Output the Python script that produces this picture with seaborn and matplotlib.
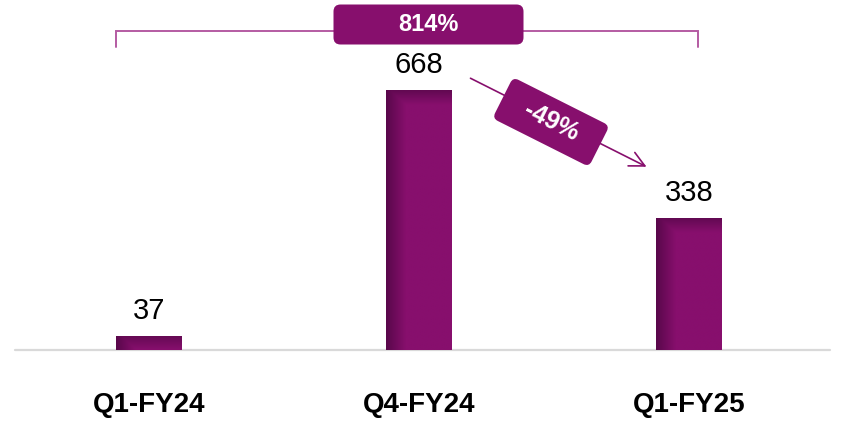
import numpy as np
import pandas as pd
import matplotlib
matplotlib.use("Agg")
import matplotlib.pyplot as plt
import matplotlib.transforms as mtransforms
from matplotlib.patches import FancyBboxPatch
import seaborn as sns

# ---- data ----
quarters = ["Q1-FY24", "Q4-FY24", "Q1-FY25"]
values = [37, 668, 338]
growth_total = "814%"
growth_qoq = "-49%"

PURPLE = "#870f6d"
DARK = "#4a0540"
BRACKET = "#b45ba2"

W, H = 851, 437
sns.set_theme(style="white")
plt.rcParams["font.family"] = ["Liberation Sans", "DejaVu Sans"]

fig = plt.figure(figsize=(W / 100, H / 100), dpi=100)
ax = fig.add_axes([0, 0, 1, 1])

df = pd.DataFrame({"quarter": quarters, "value": values})
sns.barplot(data=df, x="quarter", y="value", color=PURPLE, width=0.244,
            saturation=1, ax=ax)

# pixel <-> data scale (baseline at 350 px from top, 668 -> 90 px)
px_per_unit = 260 / 668
ax.set_xlim(-149 / 270, 2 + (W - 689.5) / 270)
ax.set_ylim(-(H - 350) / px_per_unit, 350 / px_per_unit)
ax.axis("off")

# gradient shading on bars (dark left edge + dark top strip)
dark = np.array(matplotlib.colors.to_rgb(DARK))
base = np.array(matplotlib.colors.to_rgb(PURPLE))
for p in ax.patches:
    x0, y0 = p.get_x(), p.get_y()
    w, h = p.get_width(), p.get_height()
    nx, ny = 60, 200
    gx = np.clip(np.linspace(0, 1, nx) / 0.3, 0, 1) * 0.75 + 0.25
    hpx = max(h * px_per_unit, 1)
    fy = np.linspace(0, 1, ny) * hpx  # distance from top in px
    gy = np.clip(fy / 14, 0, 1) * 0.6 + 0.4
    shade = np.minimum(gx[None, :], gy[:, None])
    img = dark + (base - dark) * shade[..., None]
    # row 0 of img is the top of the bar
    im = ax.imshow(img, extent=(x0, x0 + w, y0, y0 + h), origin="upper",
                   aspect="auto", zorder=3, interpolation="bilinear")
    im.set_clip_path(p)
    p.set_edgecolor("none")

# baseline
ax.axhline(0, xmin=15 / W, xmax=830 / W, color="#d9d9d9", lw=1.6, zorder=1)

# value labels
for i, v in enumerate(values):
    ax.text(i, v + 25 / px_per_unit, f"{v}", ha="center", va="center",
            fontsize=21, color="black")

# category labels
for i, q in enumerate(quarters):
    ax.text(i, -55 / px_per_unit, q, ha="center", va="center",
            fontsize=20, fontweight="bold", color="black")

# bracket across the three quarters
half = 0.244 / 2
bx0 = 0 - half
bx1 = 2 + 0.03
by_top = (350 - 31) / px_per_unit
by_bot = (350 - 47) / px_per_unit
ax.plot([bx0, bx0, bx1, bx1], [by_bot, by_top, by_top, by_bot],
        color=BRACKET, lw=1.4, solid_joinstyle="miter", zorder=2)

# 814% box (pixel coords, display origin bottom-left)
ident = mtransforms.IdentityTransform()
cx, cy, bw, bh = 428.5, H - 24.5, 190, 40
box = FancyBboxPatch((cx - bw / 2, cy - bh / 2), bw, bh,
                     boxstyle="round,pad=0,rounding_size=7",
                     fc=PURPLE, ec="none", transform=ident, zorder=4)
fig.patches.append(box)
fig.text(cx / W, cy / H, growth_total, ha="center", va="center",
         fontsize=17, fontweight="bold", color="white", zorder=5)

# arrow from Q4-FY24 to Q1-FY25
x_a0, y_a0 = 468, H - 77
x_a1, y_a1 = 649, H - 168
ax.annotate("", xy=(x_a1, y_a1), xytext=(x_a0, y_a0),
            xycoords=ident, textcoords=ident,
            arrowprops=dict(arrowstyle="->,head_length=0.9,head_width=0.45",
                            color=PURPLE, lw=1.2), zorder=3)

# rotated -49% box
ang = np.degrees(np.arctan2(y_a1 - y_a0, x_a1 - x_a0))
rcx, rcy, rw, rh = 551, H - 122, 108, 46
rot = mtransforms.Affine2D().rotate_deg_around(rcx, rcy, ang) + ident
rbox = FancyBboxPatch((rcx - rw / 2, rcy - rh / 2), rw, rh,
                      boxstyle="round,pad=0,rounding_size=6",
                      fc=PURPLE, ec="none", transform=rot, zorder=4)
fig.patches.append(rbox)
fig.text(rcx / W, rcy / H, growth_qoq, ha="center", va="center",
         rotation=ang, rotation_mode="anchor", fontsize=18,
         fontweight="bold", color="white", zorder=5)

fig.savefig("out.png", dpi=100)
